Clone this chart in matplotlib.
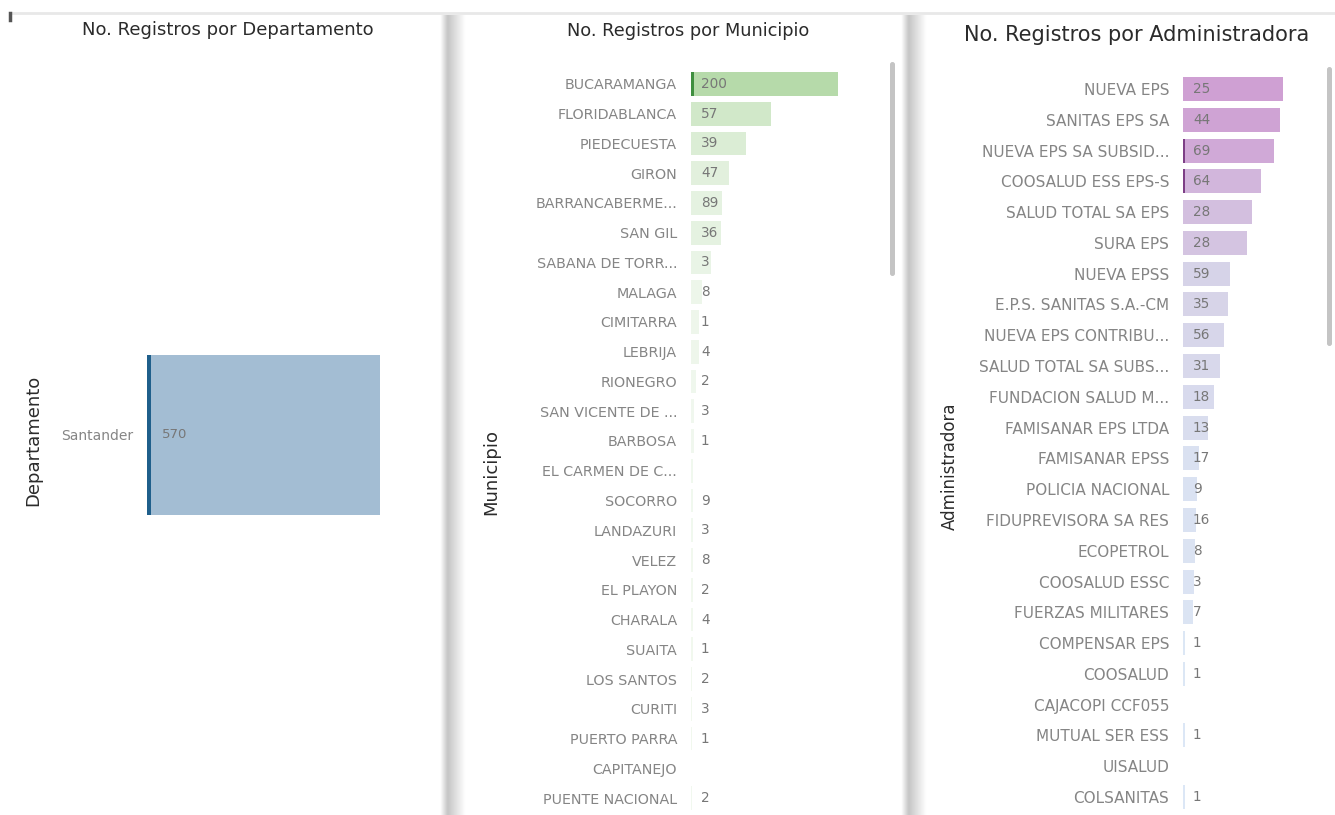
import matplotlib
matplotlib.use("Agg")
import matplotlib.pyplot as plt
import numpy as np
from matplotlib.colors import LinearSegmentedColormap
from matplotlib.patches import FancyBboxPatch

W, H = 1335, 815

# ---- data ----
dep_names = ["Santander"]
dep_bar = [233]
dep_lbl = ["570"]

mun_names = ["BUCARAMANGA", "FLORIDABLANCA", "PIEDECUESTA", "GIRON", "BARRANCABERME...",
             "SAN GIL", "SABANA DE TORR...", "MALAGA", "CIMITARRA", "LEBRIJA", "RIONEGRO",
             "SAN VICENTE DE ...", "BARBOSA", "EL CARMEN DE C...", "SOCORRO", "LANDAZURI",
             "VELEZ", "EL PLAYON", "CHARALA", "SUAITA", "LOS SANTOS", "CURITI",
             "PUERTO PARRA", "CAPITANEJO", "PUENTE NACIONAL"]
mun_bar = [147, 80, 55, 38, 31, 30, 20, 11, 8, 8, 5, 3, 3, 2, 2, 2, 1.5, 1.5, 1.5, 1.5,
           1.2, 1.2, 1.2, 0, 1]
mun_lbl = ["200", "57", "39", "47", "89", "36", "3", "8", "1", "4", "2", "3", "1", "",
           "9", "3", "8", "2", "4", "1", "2", "3", "1", "", "2"]

adm_names = ["NUEVA EPS", "SANITAS EPS SA", "NUEVA EPS SA SUBSID...", "COOSALUD ESS EPS-S",
             "SALUD TOTAL SA EPS", "SURA EPS", "NUEVA EPSS", "E.P.S. SANITAS S.A.-CM",
             "NUEVA EPS CONTRIBU...", "SALUD TOTAL SA SUBS...", "FUNDACION SALUD M...",
             "FAMISANAR EPS LTDA", "FAMISANAR EPSS", "POLICIA NACIONAL",
             "FIDUPREVISORA SA RES", "ECOPETROL", "COOSALUD ESSC", "FUERZAS MILITARES",
             "COMPENSAR EPS", "COOSALUD", "CAJACOPI CCF055", "MUTUAL SER ESS", "UISALUD",
             "COLSANITAS"]
adm_bar = [100, 97, 91, 78, 69, 64, 47, 45, 41, 37, 31, 25, 16, 14, 13, 12, 11, 10,
           2, 2, 0, 1.5, 0, 1.5]
adm_lbl = ["25", "44", "69", "64", "28", "28", "59", "35", "56", "31", "18", "13", "17",
           "9", "16", "8", "3", "7", "1", "1", "", "1", "", "1"]


def box(x0, y0, x1, y1):
    return [x0 / W, 1 - y1 / H, (x1 - x0) / W, (y1 - y0) / H]


fig = plt.figure(figsize=(W / 100, H / 100), dpi=100)
fig.patch.set_facecolor("white")

# background: panel shadows and scrollbars
bg = fig.add_axes([0, 0, 1, 1])
bg.set_xlim(0, W)
bg.set_ylim(H, 0)
bg.axis("off")
shade = np.concatenate([np.linspace(1.0, 0.78, 8), np.linspace(0.78, 1.0, 18)])[None, :]
for sx in (440, 901):
    bg.imshow(shade, cmap="gray", vmin=0, vmax=1, extent=(sx, sx + 26, H, 15),
              aspect="auto", interpolation="bicubic")
bg.plot([10, W], [13, 13], color="#e8e8e8", lw=2)
bg.plot([10, 10], [13, 20], color="#555555", lw=2.5)
for x0, y0, y1 in ((890, 62, 276), (1327, 67, 346)):
    bg.add_patch(FancyBboxPatch((x0, y0), 5, y1 - y0, boxstyle="round,pad=0,rounding_size=2.5",
                                fc="#c4c4c4", ec="none"))

title_kw = dict(color="#2b2b2b", family="DejaVu Sans", ha="center", va="center")
bg.text(228, 30, "No. Registros por Departamento", fontsize=13, **title_kw)
bg.text(688, 31, "No. Registros por Municipio", fontsize=12.8, **title_kw)
bg.text(1137, 35, "No. Registros por Administradora", fontsize=15, **title_kw)
axis_kw = dict(color="#2b2b2b", family="DejaVu Sans", rotation=90, ha="center", va="center")
bg.text(33, 440, "Departamento", fontsize=13, **axis_kw)
bg.text(491, 472, "Municipio", fontsize=13, **axis_kw)
bg.text(950, 466, "Administradora", fontsize=12, **axis_kw)


def bar_panel(rect, names, bars, labels, xmax, colors, marks, mark_color, mark_w,
              height, lbl_dx, fsize, vsize):
    ax = fig.add_axes(rect)
    ax.patch.set_alpha(0)
    n = len(names)
    y = np.arange(n)
    ax.barh(y, bars, height=height, color=colors, edgecolor="none")
    for i in marks:
        ax.barh(i, mark_w, height=height, color=mark_color, edgecolor="none")
    for i, t in enumerate(labels):
        if t:
            ax.text(lbl_dx, i, t, ha="left", va="center", fontsize=vsize,
                    color="#777777", family="DejaVu Sans")
    ax.set_xlim(0, xmax)
    ax.set_ylim(n - 0.5, -0.5)
    ax.set_yticks(y)
    ax.set_yticklabels(names, fontsize=fsize, color="#858585", family="DejaVu Sans")
    ax.tick_params(axis="y", length=0, pad=10)
    ax.set_xticks([])
    for s in ax.spines.values():
        s.set_visible(False)
    return ax


# Departamento
bar_panel(box(147, 275, 437, 595), dep_names, dep_bar, dep_lbl, 290,
          ["#a3bdd3"], [0], "#1f5f8b", 4, 0.5, 15, 10, 9.5)

# Municipio
mun_cmap = LinearSegmentedColormap.from_list("mun", ["#f1f8ef", "#b6daaa"])
mun_col = [mun_cmap(v / max(mun_bar)) for v in mun_bar]
bar_panel(box(691, 84 - 14.9, 891, 798 + 14.9), mun_names, mun_bar, mun_lbl, 200,
          mun_col, [0], "#3f8f3f", 2.5, 0.8, 10, 10.3, 9.8)

# Administradora
adm_cmap = LinearSegmentedColormap.from_list("adm", ["#dce8f6", "#d6d2e7", "#cfa0d3"])
adm_col = [adm_cmap(v / max(adm_bar)) for v in adm_bar]
bar_panel(box(1183, 89 - 15.4, 1323, 797 + 15.4), adm_names, adm_bar, adm_lbl, 140,
          adm_col, [2, 3], "#7d3f86", 1.5, 0.78, 10, 11, 9.8)

fig.savefig("out.png", dpi=100, facecolor="white")
